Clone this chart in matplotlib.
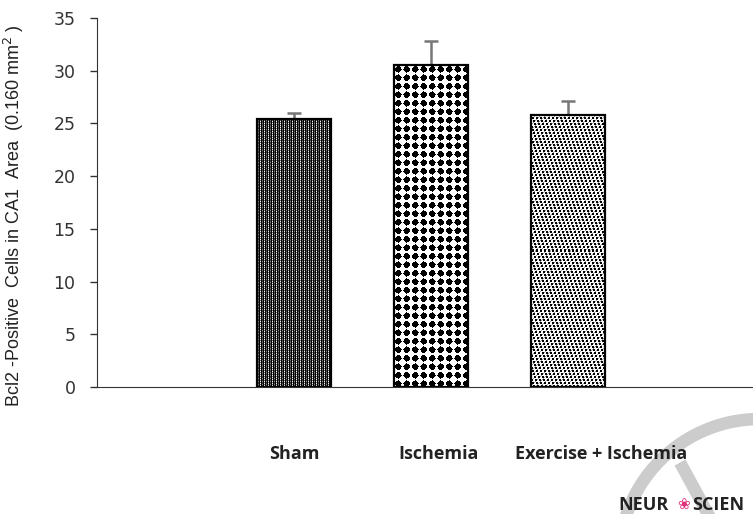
import matplotlib.pyplot as plt
import matplotlib.patches as mpatches
import matplotlib.lines as mlines
import matplotlib.transforms as mtransforms
import numpy as np

groups = ['Sham', 'Ischemia', 'Exercise + Ischemia']
means = [25.4, 30.5, 25.8]
sems = [0.6, 2.3, 1.3]
y_ticks = [0, 5, 10, 15, 20, 25, 30, 35]

W, H = 753, 514
# the category names sit in free text boxes, a bit right of the bar centres
label_shift_px = [0, 7, 33]


def texture(kind, h, w):
  """Pixel pattern (0 = black, 1 = white) used to fill a bar."""
  yy, xx = np.mgrid[0:h, 0:w]
  if kind == 'grid':
    img = np.zeros((h, w))
    img[(xx % 4 == 1)] = 0.25
    img[(yy % 3 == 1) & (xx % 2 == 1)] = 0.5
    img[(xx % 4 == 3) & (yy % 2 == 0)] = 0.95
    img[(xx % 4 == 3) & (yy % 2 == 1)] = 0.4
    return img
  if kind == 'diamond':
    p = 8.5
    cx = np.abs(((xx + 0.5) % p) - p / 2)
    cy = np.abs(((yy + 0.5) % p) - p / 2)
    d = (cx ** 1.3 + cy ** 1.3) ** (1 / 1.3)
    return np.where(d < p * 0.41, 0.0, 1.0)
  # dots
  img = np.ones((h, w))
  blk = (yy % 3 < 2) & (((xx - (yy // 3)) % 4) < 2)
  img[blk] = 0.0
  img[(~blk) & ((xx + yy) % 5 == 0)] = 0.6
  return img


fig = plt.figure(figsize=(W / 100, H / 100), dpi=100)
ax = fig.add_axes([97 / W, 1 - 387 / H, 656 / W, 369 / H])

x = np.arange(len(groups))
bars = ax.bar(x, means, width=0.54, facecolor='none', edgecolor='black',
              linewidth=1.6, zorder=3)

ax.errorbar(x, means, yerr=[np.zeros(len(sems)), sems], fmt='none',
            ecolor='#777777', elinewidth=1.8, capsize=4.7, capthick=1.8, zorder=1)

ax.set_xlim(-1.44, 3.35)
ax.set_ylim(0, 35)

# fill each bar with its pixel pattern
for b, kind in zip(bars, ['grid', 'diamond', 'dots']):
  x0, x1 = b.get_x(), b.get_x() + b.get_width()
  (px0, py0), (px1, py1) = ax.transData.transform([(x0, 0), (x1, b.get_height())])
  w = max(int(round(px1 - px0)), 1)
  h = max(int(round(py1 - py0)), 1)
  im = ax.imshow(texture(kind, h, w), cmap='gray', vmin=0, vmax=1,
                 extent=(x0, x1, 0, b.get_height()), origin='upper',
                 interpolation='nearest', aspect='auto', zorder=2)
  im.set_clip_path(b)

ax.set_xlim(-1.44, 3.35)
ax.set_ylim(0, 35)

ax.set_yticks(y_ticks)
ax.set_yticklabels([str(t) for t in y_ticks], family='DejaVu Sans',
                   fontsize=12.5, color='#333333')
ax.tick_params(axis='y', direction='out', length=5, width=1, pad=10.5,
               color='#333333')
ax.set_xticks(x)
ax.set_xticklabels(groups, family='Open Sans', fontweight='bold', fontsize=13,
                   color='#222222')
ax.tick_params(axis='x', length=0, pad=42)
for lab, dx in zip(ax.get_xticklabels(), label_shift_px):
  lab.set_transform(lab.get_transform() +
                    mtransforms.ScaledTranslation(dx / 100, 0, fig.dpi_scale_trans))

for side in ['top', 'right']:
  ax.spines[side].set_visible(False)
ax.spines['left'].set_color('#333333')
ax.spines['bottom'].set_color('#333333')

ax.set_ylabel('Bcl2 -Positive  Cells in CA1  Area  (0.160 mm$^2$ )',
              family='Liberation Sans', fontsize=13, color='#222222')
ax.yaxis.set_label_coords((26 - 97) / 656, (387 - 216) / 369)

# watermark in the lower right corner
r = 141
arc = mpatches.Arc((760 / W, 1 - 560 / H), 2 * r / W, 2 * r / H,
                   theta1=80, theta2=190, transform=fig.transFigure,
                   color='#cccccc', linewidth=9, zorder=0)
fig.add_artist(arc)
fig.add_artist(mlines.Line2D([683 / W, 708 / W], [1 - 468 / H, 0],
                             transform=fig.transFigure, color='#cccccc',
                             linewidth=9, zorder=0))
fig.text(618 / W, 1 - 510 / H, 'NEUR', family='Open Sans', fontweight='bold',
         fontsize=13, color='#222222')
fig.text(677 / W, 1 - 509 / H, '\u2740', family='DejaVu Sans', fontsize=11,
         color='#e0307a')
fig.text(692 / W, 1 - 510 / H, 'SCIEN', family='Open Sans', fontweight='bold',
         fontsize=13, color='#222222')

fig.savefig('out.png', dpi=100)
